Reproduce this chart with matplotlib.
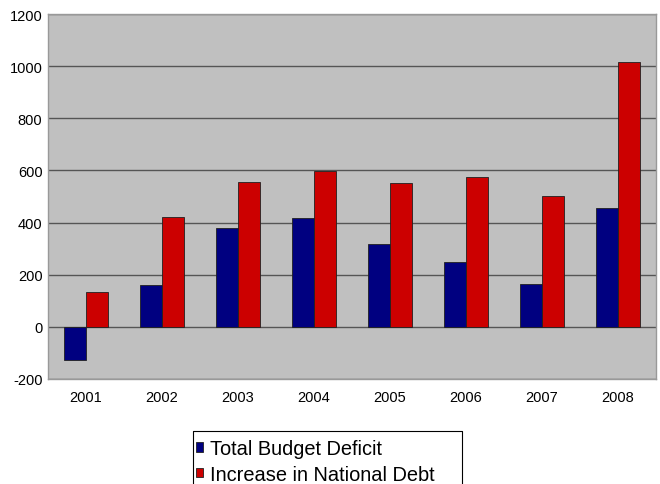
import matplotlib.pyplot as plt
from matplotlib.lines import Line2D
import numpy as np

plt.rcParams['font.family'] = ['Liberation Sans', 'DejaVu Sans']
plt.rcParams['axes.unicode_minus'] = False

years = ['2001', '2002', '2003', '2004', '2005', '2006', '2007', '2008']
budget_deficit = [-128, 160, 378, 416, 318, 250, 164, 457]
debt_increase = [135, 422, 556, 597, 553, 574, 501, 1017]

fig = plt.figure(figsize=(6.6, 4.85), dpi=100)
ax = fig.add_axes([0.0727, 0.2165, 0.9213, 0.7525])
ax.set_facecolor('#c0c0c0')

x = np.arange(len(years))
w = 0.29
ax.bar(x - w / 2, budget_deficit, w, color='#000080', edgecolor='#202020', linewidth=0.6,
       label='Total Budget Deficit', zorder=3)
ax.bar(x + w / 2, debt_increase, w, color='#cc0000', edgecolor='#202020', linewidth=0.6,
       label='Increase in National Debt', zorder=3)

ax.set_xlim(-0.5, len(years) - 0.5)
ax.set_ylim(-200, 1200)
ax.set_yticks(range(-200, 1201, 200))
ax.set_xticks(x)
ax.set_xticklabels(years)
ax.tick_params(axis='both', length=0, labelsize=10.5, colors='black')
ax.tick_params(axis='x', pad=8)
ax.tick_params(axis='y', pad=4)
ax.yaxis.grid(True, color='#555555', linewidth=1.0, zorder=1)
for s in ax.spines.values():
    s.set_color('#999999')
    s.set_linewidth(1.0)

# legend box is wider than its text and runs past the bottom edge (open at bottom)
bx0, bx1, by = 193 / 660, 462 / 660, 1 - 432 / 485
fig.add_artist(Line2D([bx0, bx0, bx1, bx1], [-0.02, by, by, -0.02], transform=fig.transFigure,
                      color='black', linewidth=0.8))
leg = fig.legend(loc='upper left', bbox_to_anchor=(196 / 660, 1 - 440 / 485), fontsize=14.4,
                 frameon=False, handlelength=0.35, handleheight=0.35, handletextpad=0.35,
                 borderpad=0.0, labelspacing=0.33, borderaxespad=0)

fig.savefig('out.png', dpi=100)
